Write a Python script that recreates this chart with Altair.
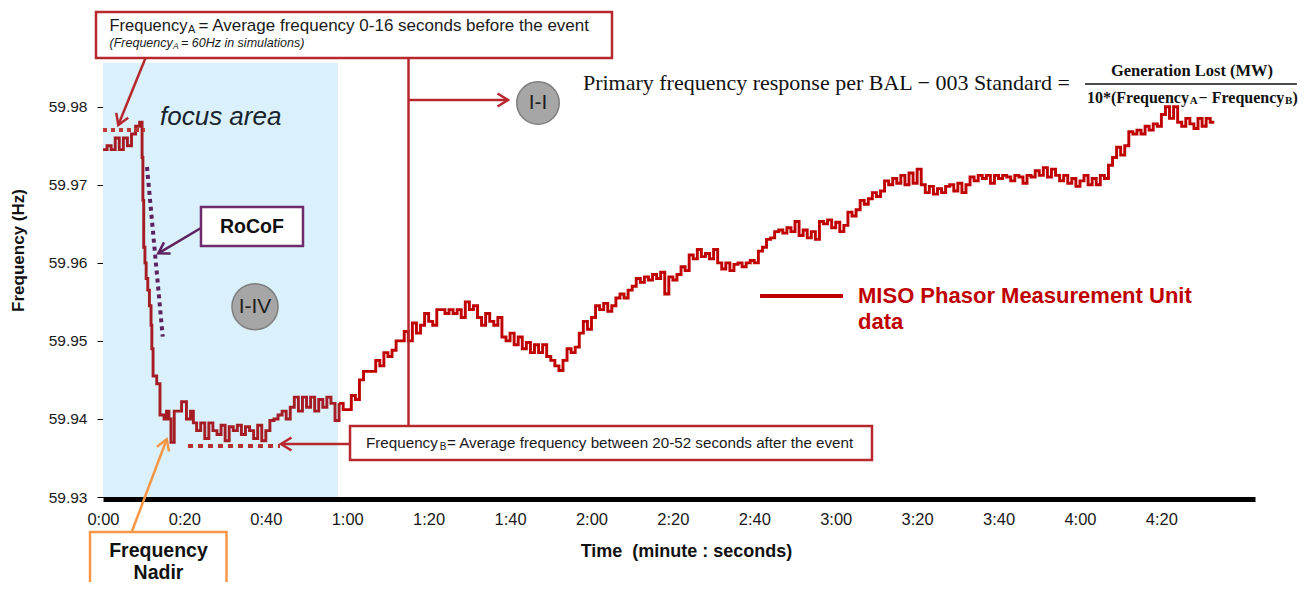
import math
import altair as alt
import pandas as pd

# ---------------- data ----------------
TIME_EARLY = [0, 1, 2, 3, 4, 5, 6, 7, 8, 9, 9.6, 9.8, 10.0, 10.3, 10.6, 11.0, 11.4,
              11.8, 12.0, 12.3, 13.2, 14, 15, 15.6, 16.2, 16.7, 17.5, 19.3, 20.5,
              21.5, 22.2, 23]
FREQ_EARLY = [59.9745, 59.9750, 59.9745, 59.9760, 59.9745, 59.9760, 59.9750, 59.9765,
              59.9775, 59.9780, 59.9735, 59.9680, 59.9620, 59.9600, 59.9580, 59.9565,
              59.9545, 59.9520, 59.9490, 59.9455, 59.9445, 59.9405, 59.9400, 59.9410,
              59.9400, 59.9370, 59.9410, 59.9422, 59.9400, 59.9410, 59.9395, 59.9385]

# one reading per second from 24 s onwards
FREQ_PER_SECOND = [
    59.9395, 59.9375, 59.9395, 59.9385, 59.9380, 59.9392, 59.9372, 59.9390, 59.9385, 59.9392,
    59.9380, 59.9390, 59.9385, 59.9375, 59.9392, 59.9372, 59.9385, 59.9398, 59.9400, 59.9405,
    59.9410, 59.9400, 59.9415, 59.9428, 59.9410, 59.9428, 59.9415, 59.9428, 59.9410, 59.9425,
    59.9415, 59.9428, 59.9420, 59.9398, 59.9420, 59.9412, 59.9412, 59.9430, 59.9425, 59.9450,
    59.9461, 59.9461, 59.9461, 59.9475, 59.9468, 59.9485, 59.9480, 59.9488, 59.9500, 59.9500,
    59.9512, 59.9500, 59.9523, 59.9510, 59.9520, 59.9535, 59.9525, 59.9520, 59.9540, 59.9540,
    59.9535, 59.9540, 59.9535, 59.9540, 59.9530, 59.9550, 59.9540, 59.9545, 59.9530, 59.9520,
    59.9535, 59.9525, 59.9520, 59.9530, 59.9505, 59.9500, 59.9510, 59.9495, 59.9505, 59.9490,
    59.9498, 59.9485, 59.9495, 59.9485, 59.9495, 59.9480, 59.9475, 59.9468, 59.9462, 59.9475,
    59.9490, 59.9485, 59.9492, 59.9510, 59.9525, 59.9515, 59.9530, 59.9545, 59.9540, 59.9548,
    59.9538, 59.9545, 59.9555, 59.9560, 59.9555, 59.9565, 59.9570, 59.9580, 59.9575, 59.9582,
    59.9578, 59.9585, 59.9580, 59.9588, 59.9560, 59.9582, 59.9578, 59.9585, 59.9595, 59.9590,
    59.9610, 59.9605, 59.9617, 59.9608, 59.9612, 59.9605, 59.9617, 59.9600, 59.9592, 59.9600,
    59.9590, 59.9598, 59.9600, 59.9595, 59.9600, 59.9603, 59.9600, 59.9615, 59.9620, 59.9630,
    59.9632, 59.9640, 59.9642, 59.9638, 59.9645, 59.9640, 59.9653, 59.9635, 59.9642, 59.9632,
    59.9640, 59.9630, 59.9653, 59.9650, 59.9655, 59.9645, 59.9652, 59.9640, 59.9648, 59.9665,
    59.9660, 59.9668, 59.9680, 59.9675, 59.9682, 59.9690, 59.9685, 59.9692, 59.9705, 59.9700,
    59.9708, 59.9702, 59.9712, 59.9700, 59.9715, 59.9702, 59.9720, 59.9700, 59.9690, 59.9698,
    59.9688, 59.9695, 59.9690, 59.9698, 59.9700, 59.9692, 59.9702, 59.9690, 59.9700, 59.9710,
    59.9705, 59.9712, 59.9708, 59.9712, 59.9702, 59.9712, 59.9708, 59.9712, 59.9710, 59.9705,
    59.9712, 59.9710, 59.9702, 59.9712, 59.9710, 59.9718, 59.9712, 59.9722, 59.9710, 59.9720,
    59.9712, 59.9705, 59.9712, 59.9702, 59.9708, 59.9698, 59.9705, 59.9712, 59.9700, 59.9708,
    59.9700, 59.9712, 59.9708, 59.9725, 59.9735, 59.9748, 59.9738, 59.9750, 59.9768, 59.9765,
    59.9770, 59.9765, 59.9775, 59.9770, 59.9778, 59.9775, 59.9790, 59.9800, 59.9785, 59.9800,
    59.9780, 59.9775, 59.9785, 59.9778, 59.9772, 59.9785, 59.9775, 59.9785, 59.9780, 59.9780,
]
TIME_PER_SECOND = list(range(24, 24 + len(FREQ_PER_SECOND)))

X_TICKS = [0, 20, 40, 60, 80, 100, 120, 140, 160, 180, 200, 220, 240, 260]
X_TICK_LABELS = ["0:00", "0:20", "0:40", "1:00", "1:20", "1:40", "2:00", "2:20",
                 "2:40", "3:00", "3:20", "3:40", "4:00", "4:20"]
Y_TICKS = [59.93, 59.94, 59.95, 59.96, 59.97, 59.98]

df = pd.DataFrame({"t": TIME_EARLY + TIME_PER_SECOND,
                   "f": FREQ_EARLY + FREQ_PER_SECOND})

# ---------------- layout / style ----------------
W, H = 1152, 434
X_DOM = [0, 283]
Y_DOM = [59.93, 59.9856]
PX_S = W / (X_DOM[1] - X_DOM[0])
PX_HZ = H / (Y_DOM[1] - Y_DOM[0])
xs = alt.Scale(domain=X_DOM, nice=False, zero=False)
ys = alt.Scale(domain=Y_DOM, nice=False, zero=False)

SANS = "Liberation Sans"
NARROW = "Liberation Sans Narrow, Liberation Sans"
SERIF = "Liberation Serif"
RED = "#B7282E"
PURPLE = "#5E2160"
ORANGE = "#F79646"
LINE_RED = "#C00000"

label_expr = "[" + ",".join(f"'{s}'" for s in X_TICK_LABELS) + "][round(datum.value/20)]"
X_AXIS = alt.Axis(values=X_TICKS, labelExpr=label_expr, title="Time\u00a0 (minute : seconds)",
                  domainColor="black", domainWidth=5, offset=2, ticks=False, tickSize=0,
                  labelFont=SANS, labelFontSize=16.5, labelColor="#1a1a1a", labelPadding=12,
                  labelFlush=False, labelOverlap=False, grid=False,
                  titleFont=SANS, titleFontSize=18, titleFontWeight="bold", titleColor="#111",
                  titleX=583, titleY=52, titleBaseline="middle", titleAlign="center")
Y_AXIS = alt.Axis(values=Y_TICKS, format=".2f", title="Frequency (Hz)", grid=False,
                  domainColor="black", domainWidth=1, tickColor="black", tickSize=6,
                  labelFont=SANS, labelFontSize=15.5, labelColor="#1a1a1a", labelPadding=10,
                  titleFont=SANS, titleFontSize=17, titleFontWeight="bold", titleColor="#111",
                  titleAngle=270, titleX=-85, titleY=187, titleAlign="center",
                  titleBaseline="middle")


def X(field="t"):
    return alt.X(f"{field}:Q", scale=xs, axis=X_AXIS)


def Y(field="f"):
    return alt.Y(f"{field}:Q", scale=ys, axis=Y_AXIS)


def seg(t1, f1, t2, f2, color, width, dash=None, cap="butt"):
    d = pd.DataFrame({"t": [t1], "f": [f1], "t2": [t2], "f2": [f2]})
    kw = dict(color=color, strokeWidth=width, strokeCap=cap)
    if dash:
        kw["strokeDash"] = dash
    return alt.Chart(d).mark_rule(**kw).encode(x=X(), y=Y(), x2="t2:Q", y2="f2:Q")


HEAD = "M-1.3,-0.8L0,0L-1.3,0.8"


def arrow(t1, f1, t2, f2, color, width=2.5, size=260):
    ang = math.degrees(math.atan2(-(f2 - f1) * PX_HZ, (t2 - t1) * PX_S)) % 360
    d = pd.DataFrame({"t": [t2], "f": [f2]})
    head = alt.Chart(d).mark_point(shape=HEAD, filled=False, color=color, opacity=1,
                                   strokeWidth=width, size=size, angle=ang,
                                   strokeJoin="miter").encode(x=X(), y=Y())
    return [seg(t1, f1, t2, f2, color, width), head]


def box(t1, t2, f1, f2, stroke, width=2.5, fill="white"):
    d = pd.DataFrame({"t": [t1], "t2": [t2], "f": [f1], "f2": [f2]})
    return alt.Chart(d).mark_rect(fill=fill, stroke=stroke, strokeWidth=width).encode(
        x=X(), x2="t2:Q", y=Y(), y2="f2:Q")


def txt(t, f, s, size, color="#1a1a1a", font=SANS, weight="normal", style="normal",
        align="left", baseline="middle"):
    d = pd.DataFrame({"t": [t], "f": [f], "s": [s]})
    return alt.Chart(d).mark_text(fontSize=size, color=color, font=font, fontWeight=weight,
                                  fontStyle=style, align=align, baseline=baseline).encode(
        x=X(), y=Y(), text="s:N")


def circle(t, f, r, label, size):
    d = pd.DataFrame({"t": [t], "f": [f]})
    c = alt.Chart(d).mark_point(shape="circle", filled=True, fill="#A6A6A6", stroke="#7F7F7F",
                                strokeWidth=1.5, opacity=1, size=math.pi * r * r).encode(x=X(), y=Y())
    return [c, txt(t, f, label, size, color="#1e1e1e", font=NARROW, align="center")]


layers = []

# focus area background
layers.append(box(0, 57.7, Y_DOM[0], Y_DOM[1], "#DAF0FA", width=0, fill="#DAF0FA"))
layers.append(txt(14.0, 59.97868, "focus area", 26, color="#17232F", style="italic"))

# frequency line
base = alt.Chart(df)
layers.append(base.transform_filter("datum.t <= 58").mark_line(
    interpolate="step-after", color="#A51C24", strokeWidth=2.9).encode(x=X(), y=Y()))
layers.append(base.transform_filter("datum.t >= 58").mark_line(
    interpolate="step-after", color=LINE_RED, strokeWidth=2.9).encode(x=X(), y=Y()))

# Frequency A reference and box
layers.append(seg(0, 59.97702, 10.3, 59.97702, "#BE3A34", 4, dash=[4, 4]))
layers += arrow(10.44, 59.98624, 3.76, 59.97766, RED, 2.5)
layers.append(seg(75.05, 59.98624, 75.05, 59.93910, RED, 2.5))
layers += arrow(75.05, 59.98086, 99.49, 59.98086, RED, 2.5)
layers.append(box(-1.72, 125.04, 59.99213, 59.98624, RED, 2.5))
layers.append(txt(1.60, 59.99034, "Frequency", 16.5))
layers.append(txt(20.88, 59.98983, "A", 11))
layers.append(txt(23.46, 59.99034, "= Average frequency 0-16 seconds before the event", 17))
layers.append(txt(1.60, 59.98816, "(Frequency", 12.5, style="italic"))
layers.append(txt(17.17, 59.98778, "A", 8.5, style="italic"))
layers.append(txt(19.16, 59.98816, "= 60Hz in simulations)", 12.5, style="italic"))

# circles
layers += circle(106.86, 59.98048, 24, "I-I", 21)
layers += circle(37.34, 59.95438, 26, "I-IV", 21)

# RoCoF
layers.append(seg(10.81, 59.97228, 14.67, 59.95054, PURPLE, 4, dash=[4, 4]))
layers += arrow(24.07, 59.96446, 13.58, 59.96122, PURPLE, 2.5)
layers.append(box(24.07, 49.13, 59.96715, 59.96216, "#6C2B6A", 2.5))
layers.append(txt(36.60, 59.96459, "RoCoF", 19.5, color="#111", weight="bold", align="center"))

# Frequency B
layers.append(seg(20.88, 59.93653, 43.48, 59.93653, "#B5322F", 4, dash=[5, 5]))
layers += arrow(60.68, 59.93679, 43.73, 59.93679, RED, 2.5)
layers.append(box(60.68, 188.91, 59.93910, 59.93474, RED, 2.5))
layers.append(txt(64.61, 59.93692, "Frequency", 15.2))
layers.append(txt(82.70, 59.93641, "B", 10))
layers.append(txt(84.50, 59.93692, "= Average frequency between 20-52 seconds after the event", 15.2))

# Frequency nadir
layers += arrow(7.05, 59.92552, 15.65, 59.93739, ORANGE, 2.5)
layers.append(box(-3.19, 30.34, 59.92552, 59.91680, ORANGE, 2.5))
layers.append(txt(13.63, 59.92308, "Frequency", 19.5, color="#111", weight="bold", align="center"))
layers.append(txt(13.63, 59.92026, "Nadir", 19.5, color="#111", weight="bold", align="center"))

# legend
layers.append(seg(161.40, 59.95575, 181.79, 59.95575, LINE_RED, 4))
layers.append(txt(185.48, 59.95575, "MISO Phasor Measurement Unit", 22, color=LINE_RED, weight="bold"))
layers.append(txt(185.48, 59.95242, "data", 22, color=LINE_RED, weight="bold"))

# formula
layers.append(txt(237.55, 59.98304, "Primary frequency response per BAL \u2212 003 Standard =",
                  22, font=SERIF, color="#111", align="right"))
layers.append(seg(241.24, 59.98291, 293.3, 59.98291, "#111", 1.5))
layers.append(txt(267.52, 59.98458, "Generation Lost (MW)", 16.5, font=SERIF, color="#111",
                  weight="bold", align="center"))
layers.append(txt(241.73, 59.98112, "10*(Frequency", 16, font=SERIF, color="#111", weight="bold"))
layers.append(txt(266.96, 59.98070, "A", 11, font=SERIF, color="#111", weight="bold"))
layers.append(txt(269.15, 59.98112, "\u2212 Frequency", 16, font=SERIF, color="#111", weight="bold"))
layers.append(txt(290.39, 59.98070, "B", 11, font=SERIF, color="#111", weight="bold"))
layers.append(txt(292.19, 59.98112, ")", 16, font=SERIF, color="#111", weight="bold"))

chart = alt.layer(*layers).properties(
    width=W, height=H,
    autosize=alt.AutoSizeParams(type="none"),
    padding={"left": 95, "top": 55, "right": 44, "bottom": 85},
).configure_view(stroke=None)

chart.save("out.html", embed_options={"renderer": "svg", "actions": False})
